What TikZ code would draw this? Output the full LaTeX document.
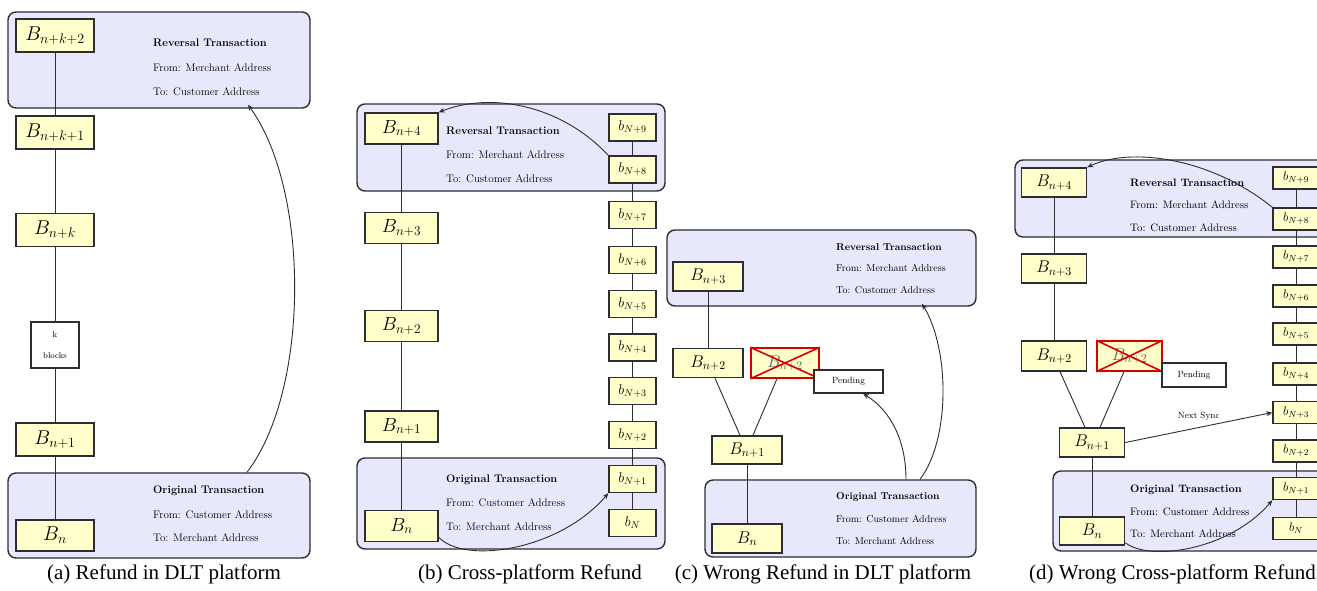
\RequirePackage{fix-cm}
\documentclass[tikz,border=0pt]{standalone}
\usepackage{fontspec}
\newfontfamily\capfont{Liberation Serif}
\usetikzlibrary{arrows.meta,calc}
\definecolor{txfill}{RGB}{232,232,252}
\definecolor{blkfill}{RGB}{255,255,204}
\definecolor{edge}{RGB}{45,45,50}
\tikzset{
  tx/.style={draw=edge, line width=1.4pt, fill=txfill, rounded corners=8pt, inner sep=0pt},
  blk/.style={draw=edge, line width=1.4pt, fill=blkfill, inner sep=0pt},
  bigA/.style={blk, minimum width=78pt, minimum height=33pt, font=\fontsize{20}{20}\selectfont},
  bigB/.style={blk, minimum width=73pt, minimum height=31pt, font=\fontsize{19}{19}\selectfont},
  bigC/.style={blk, minimum width=70pt, minimum height=29pt, font=\fontsize{17}{17}\selectfont},
  bigD/.style={blk, minimum width=65pt, minimum height=29pt, font=\fontsize{17}{17}\selectfont},
  smB/.style={blk, minimum width=47pt, minimum height=27pt, font=\fontsize{14}{14}\selectfont},
  smD/.style={blk, minimum width=46pt, minimum height=22pt, font=\fontsize{12.5}{12.5}\selectfont},
  xbox/.style={draw=red!85!black, line width=1.4pt, fill=blkfill, inner sep=0pt, text=black!60},
  xcross/.style={draw=red!85!black, line width=1.6pt},
  pend/.style={draw=edge, line width=1.2pt, fill=white, inner sep=0pt, font=\fontsize{9}{9}\selectfont},
  ln/.style={draw=edge, line width=0.9pt},
  arr/.style={ln, -{Stealth[length=6pt,width=5pt]}},
  lblA/.style={anchor=west, inner sep=0pt, font=\fontsize{11}{11}\selectfont},
  lblC/.style={anchor=west, inner sep=0pt, font=\fontsize{10}{10}\selectfont},
  captext/.style={inner sep=0pt, font=\capfont\fontsize{21}{21}\selectfont},
}
\begin{document}
\begin{tikzpicture}[x=1pt,y=-1pt]
\clip (0,0) rectangle (1317,590);
\fill[white] (0,0) rectangle (1317,590);

% ================= (a) =================
\node[tx, minimum width=302pt, minimum height=96pt] (aTop) at (159,60) {};
\node[tx, minimum width=302pt, minimum height=85pt] (aBot) at (159,515.5) {};
\node[bigA] (aB6) at (55,35.5) {$B_{n+k+2}$};
\node[bigA] (aB5) at (55,132.5) {$B_{n+k+1}$};
\node[bigA] (aB4) at (55,230) {$B_{n+k}$};
\node[blk, fill=white, minimum width=48pt, minimum height=46pt, align=center,
      font=\fontsize{8.5}{21}\selectfont] (aK) at (55,345) {k\\blocks};
\node[bigA] (aB1) at (55,439.5) {$B_{n+1}$};
\node[bigA, minimum height=31pt] (aB0) at (55,535.5) {$B_{n}$};
\draw[ln] (aB6.south) -- (aB5.north);
\draw[ln] (aB5.south) -- (aB4.north);
\draw[ln] (aB4.south) -- (aK.north);
\draw[ln] (aK.south) -- (aB1.north);
\draw[ln] (aB1.south) -- (aB0.north);
\node[lblA, font=\fontsize{11}{11}\selectfont\bfseries] (aT1) at (153,43) {Reversal Transaction};
\node[lblA] (aT2) at (153,68) {From: Merchant Address};
\node[lblA] (aT3) at (153,92) {To: Customer Address};
\node[lblA, font=\fontsize{11}{11}\selectfont\bfseries] (aO1) at (153,491) {Original Transaction};
\node[lblA] (aO2) at (153,515) {From: Customer Address};
\node[lblA] (aO3) at (153,538) {To: Merchant Address};
\draw[arr] ([xshift=88pt]aBot.north) .. controls (310,390) and (310,190) .. ([xshift=89pt,yshift=4pt]aTop.south);
\node[captext] (capA) at (164,574) {(a) Refund in DLT platform};

% ================= (b) =================
\node[tx, minimum width=308pt, minimum height=87pt] (bTop) at (511,147.5) {};
\node[tx, minimum width=308pt, minimum height=91pt] (bBot) at (511,503.5) {};
\node[bigB] (bB4) at (401.5,128.5) {$B_{n+4}$};
\node[bigB] (bB3) at (401.5,228) {$B_{n+3}$};
\node[bigB] (bB2) at (401.5,326) {$B_{n+2}$};
\node[bigB] (bB1) at (401.5,426.5) {$B_{n+1}$};
\node[bigB] (bB0) at (401.5,526) {$B_{n}$};
\draw[ln] (bB4.south) -- (bB3.north);
\draw[ln] (bB3.south) -- (bB2.north);
\draw[ln] (bB2.south) -- (bB1.north);
\draw[ln] (bB1.south) -- (bB0.north);
\node[smB] (bb9) at (632.5,127.5) {$b_{N+9}$};
\node[smB] (bb8) at (632.5,169.5) {$b_{N+8}$};
\node[smB] (bb7) at (632.5,215) {$b_{N+7}$};
\node[smB] (bb6) at (632.5,260) {$b_{N+6}$};
\node[smB] (bb5) at (632.5,304) {$b_{N+5}$};
\node[smB] (bb4) at (632.5,347.5) {$b_{N+4}$};
\node[smB] (bb3) at (632.5,391) {$b_{N+3}$};
\node[smB] (bb2) at (632.5,435) {$b_{N+2}$};
\node[smB] (bb1) at (632.5,479) {$b_{N+1}$};
\node[smB] (bb0) at (632.5,523) {$b_{N}$};
\foreach \u/\l in {bb9/bb8,bb8/bb7,bb7/bb6,bb6/bb5,bb5/bb4,bb4/bb3,bb3/bb2,bb2/bb1,bb1/bb0}
  \draw[ln] (\u.south) -- (\l.north);
\node[lblA, font=\fontsize{11}{11}\selectfont\bfseries] (bT1) at (446,131) {Reversal Transaction};
\node[lblA] (bT2) at (446,155) {From: Merchant Address};
\node[lblA] (bT3) at (446,179) {To: Customer Address};
\node[lblA, font=\fontsize{11}{11}\selectfont\bfseries] (bO1) at (446,480) {Original Transaction};
\node[lblA] (bO2) at (446,503) {From: Customer Address};
\node[lblA] (bO3) at (446,527) {To: Merchant Address};
\draw[arr] (bb8.north west) .. controls (560,104) and (490,92) .. (bB4.north east);
\draw[arr] ([yshift=5pt]bB0.south east) .. controls (465,565) and (560,550) .. (bb1.south west);
\node[captext] (capB) at (530,574) {(b) Cross-platform Refund};

% ================= (c) =================
\node[tx, minimum width=309pt, minimum height=76pt] (cTop) at (821.5,268) {};
\node[tx, minimum width=271pt, minimum height=77pt] (cBot) at (840.5,518.5) {};
\node[bigC] (cB3) at (708,276.5) {$B_{n+3}$};
\node[bigC] (cB2) at (708,363) {$B_{n+2}$};
\node[xbox, minimum width=68pt, minimum height=30pt, font=\fontsize{17}{17}\selectfont] (cX) at (785,363) {$B_{n+2}$};
\draw[xcross] (cX.north west) -- (cX.south east);
\draw[xcross] (cX.south west) -- (cX.north east);
\node[pend, minimum width=69pt, minimum height=23pt] (cP) at (848.5,381.5) {Pending};
\node[bigC, minimum height=28pt] (cB1) at (747,450) {$B_{n+1}$};
\node[bigC] (cB0) at (747,538.5) {$B_{n}$};
\draw[ln] (cB3.south) -- (cB2.north);
\draw[ln] ([xshift=7pt]cB2.south) -- ([xshift=-7pt]cB1.north);
\draw[ln] ([xshift=-8pt]cX.south) -- ([xshift=6pt]cB1.north);
\draw[ln] (cB1.south) -- (cB0.north);
\node[lblC, font=\fontsize{10}{10}\selectfont\bfseries] (cT1) at (836,247) {Reversal Transaction};
\node[lblC] (cT2) at (836,268) {From: Merchant Address};
\node[lblC] (cT3) at (836,290) {To: Customer Address};
\node[lblC, font=\fontsize{10}{10}\selectfont\bfseries] (cO1) at (836,497) {Original Transaction};
\node[lblC] (cO2) at (836,519) {From: Customer Address};
\node[lblC] (cO3) at (836,541) {To: Merchant Address};
\draw[arr] ([xshift=65.5pt]cBot.north) .. controls (906,440) and (890,410) .. ([xshift=14.5pt]cP.south);
\draw[arr] ([xshift=79.5pt]cBot.north) .. controls (950,440) and (950,350) .. ([xshift=100.5pt,yshift=3pt]cTop.south);
\node[captext] (capC) at (823,574) {(c) Wrong Refund in DLT platform};

% ================= (d) =================
\node[tx, minimum width=313pt, minimum height=77pt] (dTop) at (1171.5,198.5) {};
\node[tx, minimum width=275pt, minimum height=80pt] (dBot) at (1190.5,511) {};
\node[bigD] (dB4) at (1054,182.5) {$B_{n+4}$};
\node[bigD] (dB3) at (1054,268.5) {$B_{n+3}$};
\node[bigD, minimum height=30pt] (dB2) at (1054,356) {$B_{n+2}$};
\node[xbox, minimum width=65pt, minimum height=30pt, font=\fontsize{17}{17}\selectfont] (dX) at (1129.5,356) {$B_{n+2}$};
\draw[xcross] (dX.north west) -- (dX.south east);
\draw[xcross] (dX.south west) -- (dX.north east);
\node[pend, minimum width=64pt, minimum height=24pt] (dP) at (1194,375) {Pending};
\node[bigD] (dB1) at (1092,442.5) {$B_{n+1}$};
\node[bigD, minimum height=28pt] (dB0) at (1092,531) {$B_{n}$};
\draw[ln] (dB4.south) -- (dB3.north);
\draw[ln] (dB3.south) -- (dB2.north);
\draw[ln] ([xshift=6pt]dB2.south) -- ([xshift=-7pt]dB1.north);
\draw[ln] ([xshift=-5.5pt]dX.south) -- ([xshift=8pt]dB1.north);
\draw[ln] (dB1.south) -- (dB0.north);
\node[smD] (db9) at (1296,178) {$b_{N+9}$};
\node[smD] (db8) at (1296,219) {$b_{N+8}$};
\node[smD] (db7) at (1296,257) {$b_{N+7}$};
\node[smD] (db6) at (1296,296) {$b_{N+6}$};
\node[smD] (db5) at (1296,334) {$b_{N+5}$};
\node[smD] (db4) at (1296,374) {$b_{N+4}$};
\node[smD] (db3) at (1296,412.5) {$b_{N+3}$};
\node[smD] (db2) at (1296,451) {$b_{N+2}$};
\node[smD] (db1) at (1296,488.5) {$b_{N+1}$};
\node[smD] (db0) at (1296,528.5) {$b_{N}$};
\foreach \u/\l in {db9/db8,db8/db7,db7/db6,db6/db5,db5/db4,db4/db3,db3/db2,db2/db1,db1/db0}
  \draw[ln] (\u.south) -- (\l.north);
\node[lblA, font=\fontsize{10.8}{10.8}\selectfont\bfseries] (dT1) at (1130,183) {Reversal Transaction};
\node[lblA, font=\fontsize{10.8}{10.8}\selectfont] (dT2) at (1130,205) {From: Merchant Address};
\node[lblA, font=\fontsize{10.8}{10.8}\selectfont] (dT3) at (1130,228) {To: Customer Address};
\node[lblA, font=\fontsize{10.8}{10.8}\selectfont\bfseries] (dO1) at (1130,490) {Original Transaction};
\node[lblA, font=\fontsize{10.8}{10.8}\selectfont] (dO2) at (1130,512) {From: Customer Address};
\node[lblA, font=\fontsize{10.8}{10.8}\selectfont] (dO3) at (1130,534) {To: Merchant Address};
\draw[arr] (dB1.east) -- node[above=3pt, font=\fontsize{9}{9}\selectfont] {Next Sync} (db3.west);
\draw[arr] ([yshift=3pt]dB0.south east) .. controls (1150,562) and (1230,550) .. (db1.south west);
\draw[arr] (db8.north west) .. controls (1210,157) and (1130,147) .. (dB4.north east);
\node[captext, anchor=east] (capD) at (1316,574) {(d) Wrong Cross-platform Refund};
\end{tikzpicture}
\end{document}
